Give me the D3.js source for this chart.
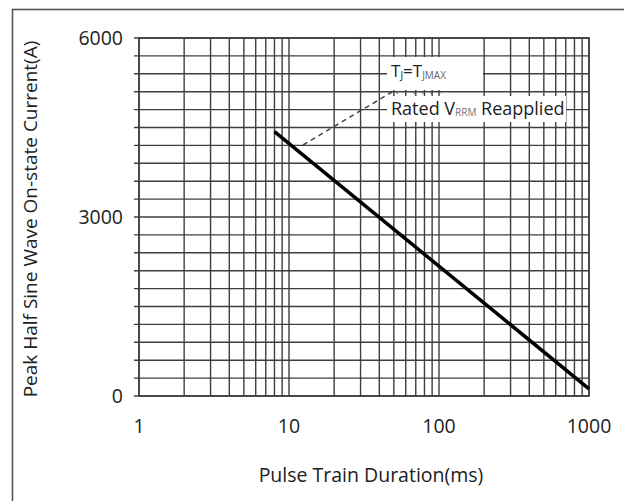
<!DOCTYPE html>
<html>
<head>
<meta charset="utf-8">
<script src="https://cdn.jsdelivr.net/npm/d3@7"></script>
<style>
  html, body { margin: 0; padding: 0; background: #fff; }
  svg { display: block; }
  text { font-family: "Open Sans", "Noto Sans", sans-serif; fill: #222; }
</style>
</head>
<body>
<svg id="chart" width="624" height="501"></svg>
<script>
// Axis ranges and tick labels
const xDomain = [1, 1000];
const yDomain = [0, 6000];
const xTickValues = [1, 10, 100, 1000];
const xTickLabels = ["1", "10", "100", "1000"];
const yTickValues = [0, 3000, 6000];
const yTickLabels = ["0", "3000", "6000"];
const yGridStep = 300;

// Surge current vs. pulse train duration (straight line on log-x)
const curveDuration = [8, 1000];
const curveCurrent = [4430, 120];

// Leader line from the curve to the condition note
const leaderDuration = [12.4, 48.6];
const leaderCurrent = [4207, 5095];
const dotDuration = [52, 106];
const dotCurrent = [5078, 5078];

const svg = d3.select("#chart");
const plot = { left: 139, top: 38, right: 589, bottom: 396 };

const x = d3.scaleLog().domain(xDomain).range([plot.left, plot.right]);
const y = d3.scaleLinear().domain(yDomain).range([plot.bottom, plot.top]);

const gridColor = "#3f3f3f";

// Outer frame (runs off the right and bottom edges)
svg.append("rect")
  .attr("x", 12.5).attr("y", 9.5)
  .attr("width", 700).attr("height", 700)
  .attr("fill", "none").attr("stroke", "#555").attr("stroke-width", 1.6);

// Vertical log grid: 1..9 in each decade
const xGrid = [];
for (let d = 1; d < 1000; d *= 10) {
  for (let m = 1; m <= 9; m++) xGrid.push(d * m);
}
xGrid.push(1000);
svg.append("g").selectAll("line").data(xGrid).join("line")
  .attr("x1", d => x(d)).attr("x2", d => x(d))
  .attr("y1", plot.top).attr("y2", plot.bottom)
  .attr("stroke", gridColor).attr("stroke-width", 1.4);

// Horizontal grid every 300 A, with short outside ticks
const yGrid = d3.range(yDomain[0], yDomain[1] + 1, yGridStep);
svg.append("g").selectAll("line").data(yGrid).join("line")
  .attr("x1", plot.left - 5).attr("x2", plot.right)
  .attr("y1", d => y(d)).attr("y2", d => y(d))
  .attr("stroke", gridColor).attr("stroke-width", 1.4);

// Plot border
svg.append("rect")
  .attr("x", plot.left).attr("y", plot.top)
  .attr("width", plot.right - plot.left).attr("height", plot.bottom - plot.top)
  .attr("fill", "none").attr("stroke", gridColor).attr("stroke-width", 1.6);

// Tick labels
svg.append("g").selectAll("text").data(yTickValues).join("text")
  .attr("x", plot.left - 16).attr("y", d => y(d))
  .attr("dy", "0.36em")
  .attr("text-anchor", "end")
  .attr("font-size", 19.5)
  .text((d, i) => yTickLabels[i]);

svg.append("g").selectAll("text").data(xTickValues).join("text")
  .attr("x", d => x(d)).attr("y", 433)
  .attr("text-anchor", "middle")
  .attr("font-size", 19.5)
  .text((d, i) => xTickLabels[i]);

// Axis titles
svg.append("text")
  .attr("x", 371).attr("y", 482)
  .attr("text-anchor", "middle")
  .attr("font-size", 19.5)
  .text("Pulse Train Duration(ms)");

svg.append("text")
  .attr("transform", "translate(37,219) rotate(-90)")
  .attr("text-anchor", "middle")
  .attr("font-size", 19)
  .text("Peak Half Sine Wave On-state Current(A)");

// Note boxes covering the grid
svg.append("rect").attr("x", 387).attr("y", 57).attr("width", 96).attr("height", 33).attr("fill", "#fff");
svg.append("rect").attr("x", 387).attr("y", 96).attr("width", 179).attr("height", 26).attr("fill", "#fff");

const note1 = svg.append("text").attr("x", 391).attr("y", 77).attr("font-size", 17);
note1.append("tspan").text("T");
note1.append("tspan").attr("font-size", 10).attr("dy", 2).text("J");
note1.append("tspan").attr("dy", -2).text("=T");
note1.append("tspan").attr("font-size", 10).attr("dy", 2).attr("fill", "#666").text("JMAX");

const note2 = svg.append("text").attr("x", 391).attr("y", 115).attr("font-size", 18);
note2.append("tspan").text("Rated V");
note2.append("tspan").attr("font-size", 10).attr("dy", 1).attr("fill", "#777").text("RRM");
note2.append("tspan").attr("dy", -1).text(" Reapplied");

// Leader lines
const line = d3.line().x(d => x(d[0])).y(d => y(d[1]));
svg.append("path")
  .datum(d3.zip(leaderDuration, leaderCurrent))
  .attr("d", line)
  .attr("fill", "none").attr("stroke", "#444").attr("stroke-width", 1.5)
  .attr("stroke-dasharray", "5,4");
svg.append("path")
  .datum(d3.zip(dotDuration, dotCurrent))
  .attr("d", line)
  .attr("fill", "none").attr("stroke", "#666").attr("stroke-width", 1.4)
  .attr("stroke-dasharray", "1.5,7");

// Main curve
svg.append("path")
  .datum(d3.zip(curveDuration, curveCurrent))
  .attr("d", line)
  .attr("fill", "none").attr("stroke", "#000").attr("stroke-width", 3.5)
  .attr("stroke-linecap", "butt");
</script>
</body>
</html>
